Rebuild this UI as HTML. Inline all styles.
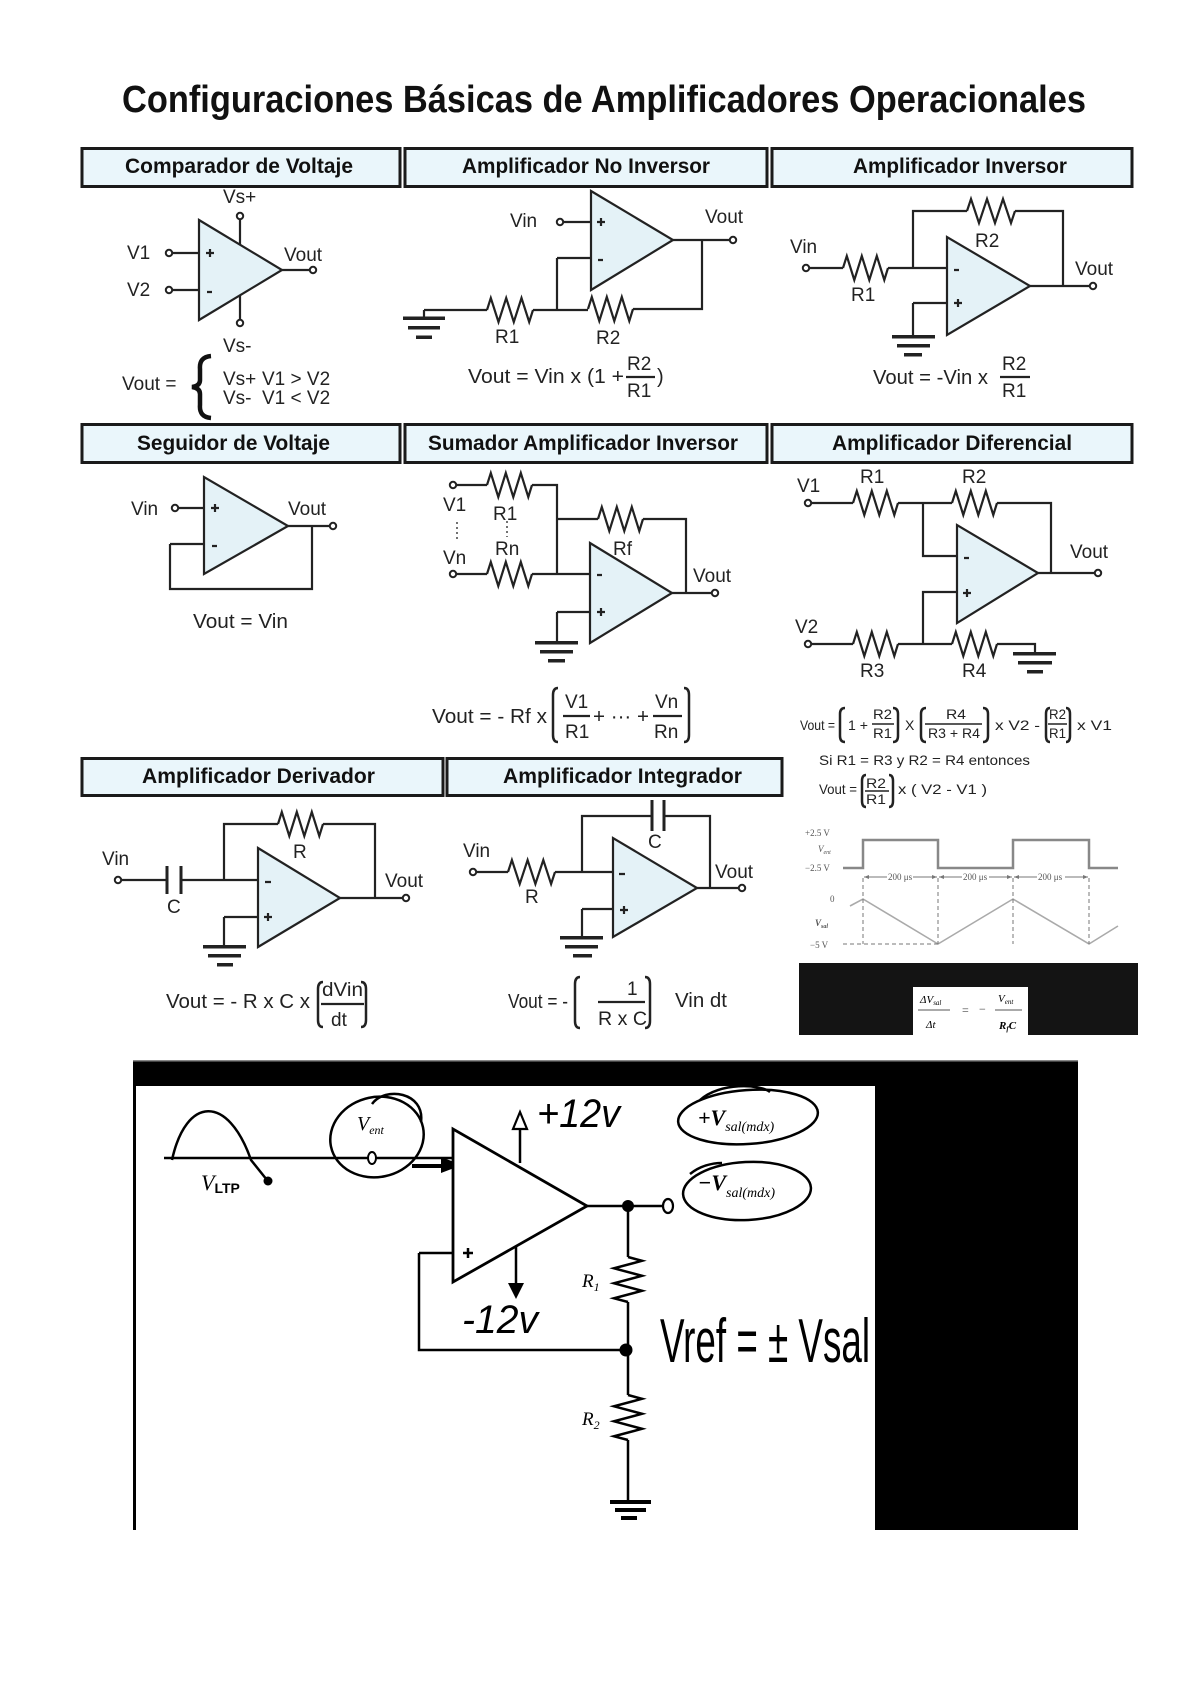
<!DOCTYPE html>
<html><head><meta charset="utf-8"><style>
html,body{margin:0;padding:0;background:#fff;}
svg{display:block;}
</style></head><body>
<svg width="1200" height="1696" viewBox="0 0 1200 1696" xmlns="http://www.w3.org/2000/svg">
<style>
.w{stroke:#222;stroke-width:2.2;fill:none;stroke-linejoin:miter}
.op{fill:#e4f2f7;stroke:#222;stroke-width:2.2}
.c{fill:#fff;stroke:#222;stroke-width:2}
.t{font-family:"Liberation Sans",sans-serif;fill:#222;font-size:19px}
.f{font-family:"Liberation Sans",sans-serif;fill:#222;font-size:20px}
.s{font-family:"Liberation Sans",sans-serif;fill:#222;font-size:14px}
.h{font-family:"Liberation Sans",sans-serif;font-weight:bold;fill:#111}
.hb{fill:#eaf6fb;stroke:#1a1a1a;stroke-width:3}
.g{fill:#222}
.br{stroke:#222;stroke-width:2.5;fill:none}
.wv{font-family:"Liberation Serif",serif;fill:#555;font-size:9px}
.hw{font-family:"Liberation Serif",serif;font-style:italic;fill:#000}
.k{stroke:#000;stroke-width:2.5;fill:none}
</style>

<!-- Title -->
<text x="122" y="112" font-size="38" textLength="964" lengthAdjust="spacingAndGlyphs" class="h">Configuraciones Básicas de Amplificadores Operacionales</text>

<!-- Header boxes -->
<rect class="hb" x="82" y="148.5" width="318" height="38"/>
<rect class="hb" x="405" y="148.5" width="362" height="38"/>
<rect class="hb" x="772" y="148.5" width="360" height="38"/>
<rect class="hb" x="82" y="424.5" width="318" height="38"/>
<rect class="hb" x="405" y="424.5" width="362" height="38"/>
<rect class="hb" x="772" y="424.5" width="360" height="38"/>
<rect class="hb" x="82" y="758.5" width="361" height="37"/>
<rect class="hb" x="447" y="758.5" width="335" height="37"/>

<text class="h" font-size="21" x="125" y="173" textLength="228" lengthAdjust="spacingAndGlyphs">Comparador de Voltaje</text>
<text class="h" font-size="21" x="462" y="173" textLength="248" lengthAdjust="spacingAndGlyphs">Amplificador No Inversor</text>
<text class="h" font-size="21" x="853" y="173" textLength="214" lengthAdjust="spacingAndGlyphs">Amplificador Inversor</text>
<text class="h" font-size="21" x="137" y="450" textLength="193" lengthAdjust="spacingAndGlyphs">Seguidor de Voltaje</text>
<text class="h" font-size="21" x="428" y="450" textLength="310" lengthAdjust="spacingAndGlyphs">Sumador Amplificador Inversor</text>
<text class="h" font-size="21" x="832" y="450" textLength="240" lengthAdjust="spacingAndGlyphs">Amplificador Diferencial</text>
<text class="h" font-size="21" x="142" y="783" textLength="233" lengthAdjust="spacingAndGlyphs">Amplificador Derivador</text>
<text class="h" font-size="21" x="503" y="783" textLength="239" lengthAdjust="spacingAndGlyphs">Amplificador Integrador</text>

<!-- ===== C1 Comparador ===== -->
<polygon class="op" points="199,220 199,320 282,270"/>
<path class="w" d="M172 253H199 M172 290H199 M240 219V245 M240 295V320 M282 270H310 M206 253H214 M210 249V257 M207 292H212"/>
<circle class="c" cx="169" cy="253" r="3.2"/>
<circle class="c" cx="169" cy="290" r="3.2"/>
<circle class="c" cx="240" cy="216" r="3.2"/>
<circle class="c" cx="240" cy="323" r="3.2"/>
<circle class="c" cx="313" cy="270" r="3.2"/>
<text class="t" x="127" y="259">V1</text>
<text class="t" x="127" y="296">V2</text>
<text class="t" x="223" y="203">Vs+</text>
<text class="t" x="223" y="352">Vs-</text>
<text class="t" x="284" y="261">Vout</text>
<text class="t" x="122" y="390" font-size="18">Vout =</text>
<path d="M211 356 Q199 357 200 369 L200 380 Q200 386 192 387 Q200 388 200 394 L200 405 Q199 417 211 418" stroke="#111" stroke-width="4.5" fill="none"/>
<text class="t" font-size="16" x="223" y="385">Vs+</text>
<text class="t" font-size="16" x="262" y="385">V1 &gt; V2</text>
<text class="t" font-size="16" x="223" y="404">Vs-</text>
<text class="t" font-size="16" x="262" y="404">V1 &lt; V2</text>

<!-- ===== C2 No Inversor ===== -->
<polygon class="op" points="591,191 591,290 673,240"/>
<path class="w" d="M563 222H591 M557 258H591 M557 258V310 M424 310H487 M533 310H588 M633 309H702V240 M673 240H730 M424 310V317 M597 222H605 M601 218V226 M598 260H603"/>
<polyline class="w" points="487,310 490.8,298 498.5,322 506.2,298 513.8,322 521.5,298 529.2,322 533,310"/>
<polyline class="w" points="588,309 591.8,297 599.3,321 606.8,297 614.3,321 621.8,297 629.3,321 633,309"/>
<rect class="g" x="403" y="316.5" width="42" height="3.5"/>
<rect class="g" x="408" y="326" width="32" height="3.5"/>
<rect class="g" x="416" y="335.5" width="16" height="3.5"/>
<circle class="c" cx="560" cy="222" r="3.2"/>
<circle class="c" cx="733" cy="240" r="3.2"/>
<text class="t" x="510" y="227">Vin</text>
<text class="t" x="705" y="223">Vout</text>
<text class="t" x="495" y="343">R1</text>
<text class="t" x="596" y="344">R2</text>
<text class="f" x="468" y="383" textLength="156" lengthAdjust="spacingAndGlyphs">Vout = Vin x (1 +</text>
<text class="t" x="627" y="370">R2</text>
<path class="w" d="M626 377H655"/>
<text class="t" x="627" y="397">R1</text>
<text class="f" x="657" y="383">)</text>

<!-- ===== C3 Inversor ===== -->
<polygon class="op" points="947,237 947,335 1030,286"/>
<path class="w" d="M809 268H843 M888 268H947 M913 268V211H967 M1015 211H1063V286 M1030 286H1090 M913 303H947 M913 303V336 M954 270H959 M954 303H962 M958 299V307"/>
<polyline class="w" points="843,268 846.8,256 854.3,280 861.8,256 869.3,280 876.8,256 884.3,280 888,268"/>
<polyline class="w" points="967,211 971,199 979,223 987,199 995,223 1003,199 1011,223 1015,211"/>
<rect class="g" x="892" y="335" width="43" height="3.5"/>
<rect class="g" x="897" y="344" width="33" height="3.5"/>
<rect class="g" x="904" y="353" width="18" height="3.5"/>
<circle class="c" cx="806" cy="268" r="3.2"/>
<circle class="c" cx="1093" cy="286" r="3.2"/>
<text class="t" x="790" y="253">Vin</text>
<text class="t" x="851" y="301">R1</text>
<text class="t" x="975" y="247">R2</text>
<text class="t" x="1075" y="275">Vout</text>
<text class="f" x="873" y="384" textLength="115" lengthAdjust="spacingAndGlyphs">Vout = -Vin x</text>
<text class="t" x="1002" y="370">R2</text>
<path class="w" d="M1000 377H1030"/>
<text class="t" x="1002" y="397">R1</text>

<!-- ===== C4 Seguidor ===== -->
<polygon class="op" points="204,477 204,574 288,526"/>
<path class="w" d="M178 508H204 M170 544H204 M170 544V589H312V526 M288 526H330 M211 508H219 M215 504V512 M212 546H217"/>
<circle class="c" cx="175" cy="508" r="3.2"/>
<circle class="c" cx="333" cy="526" r="3.2"/>
<text class="t" x="131" y="515">Vin</text>
<text class="t" x="288" y="515">Vout</text>
<text class="f" x="193" y="628" textLength="95" lengthAdjust="spacingAndGlyphs">Vout = Vin</text>

<!-- ===== C5 Sumador ===== -->
<polygon class="op" points="590,543 590,643 672,593"/>
<path class="w" d="M456 485H487 M532 485H557V574 M456 574H487 M532 574H590 M557 519H598 M643 519H686V593 M557 612H590 M557 612V642 M672 593H712 M597 575H602 M597 612H605 M601 608V616"/>
<polyline class="w" points="487,485 490.8,473 498.3,497 505.8,473 513.3,497 520.8,473 528.3,497 532,485"/>
<polyline class="w" points="487,574 490.8,562 498.3,586 505.8,562 513.3,586 520.8,562 528.3,586 532,574"/>
<polyline class="w" points="598,519 601.8,507 609.3,531 616.8,507 624.3,531 631.8,507 639.3,531 643,519"/>
<path d="M457 522V540 M507 521V537" stroke="#444" stroke-width="1.5" stroke-dasharray="2 3"/>
<rect class="g" x="535" y="641" width="43" height="3.5"/>
<rect class="g" x="540" y="650" width="33" height="3.5"/>
<rect class="g" x="548" y="659" width="17" height="3.5"/>
<circle class="c" cx="453" cy="485" r="3.2"/>
<circle class="c" cx="453" cy="574" r="3.2"/>
<circle class="c" cx="715" cy="593" r="3.2"/>
<text class="t" x="443" y="511">V1</text>
<text class="t" x="493" y="520">R1</text>
<text class="t" x="495" y="555">Rn</text>
<text class="t" x="443" y="564">Vn</text>
<text class="t" x="613" y="555">Rf</text>
<text class="t" x="693" y="582">Vout</text>
<text class="f" x="432" y="723" textLength="115" lengthAdjust="spacingAndGlyphs">Vout = - Rf x</text>
<path class="br" d="M558 688 Q553 688 553 695 V735 Q553 742 558 742 M684 688 Q689 688 689 695 V735 Q689 742 684 742"/>
<text class="t" x="565" y="708">V1</text>
<path class="w" d="M563 716H590"/>
<text class="t" x="565" y="738">R1</text>
<text class="f" x="593" y="723" textLength="56" lengthAdjust="spacingAndGlyphs">+ ··· +</text>
<text class="t" x="655" y="708">Vn</text>
<path class="w" d="M653 716H682"/>
<text class="t" x="654" y="738">Rn</text>

<!-- ===== C6 Diferencial ===== -->
<polygon class="op" points="957,525 957,623 1038,573"/>
<path class="w" d="M811 503H853 M898 503H952 M997 503H1051V573 M923 503V556H957 M811 644H853 M898 644H952 M997 644H1035V652 M923 644V592H957 M1038 573H1095 M964 558H969 M963 593H971 M967 589V597"/>
<polyline class="w" points="853,503 856.8,491 864.3,515 871.8,491 879.3,515 886.8,491 894.3,515 898,503"/>
<polyline class="w" points="952,503 955.8,491 963.3,515 970.8,491 978.3,515 985.8,491 993.3,515 997,503"/>
<polyline class="w" points="853,644 856.8,632 864.3,656 871.8,632 879.3,656 886.8,632 894.3,656 898,644"/>
<polyline class="w" points="952,644 955.8,632 963.3,656 970.8,632 978.3,656 985.8,632 993.3,656 997,644"/>
<rect class="g" x="1013" y="652" width="43" height="3.5"/>
<rect class="g" x="1018" y="661" width="34" height="3.5"/>
<rect class="g" x="1027" y="670" width="16" height="3.5"/>
<circle class="c" cx="808" cy="503" r="3.2"/>
<circle class="c" cx="808" cy="644" r="3.2"/>
<circle class="c" cx="1098" cy="573" r="3.2"/>
<text class="t" x="797" y="492">V1</text>
<text class="t" x="860" y="483">R1</text>
<text class="t" x="962" y="483">R2</text>
<text class="t" x="1070" y="558">Vout</text>
<text class="t" x="795" y="633">V2</text>
<text class="t" x="860" y="677">R3</text>
<text class="t" x="962" y="677">R4</text>

<text class="s" x="800" y="730" textLength="35" lengthAdjust="spacingAndGlyphs">Vout =</text>
<path class="br" d="M845 708 Q840 708 840 714 V736 Q840 742 845 742 M893 708 Q898 708 898 714 V736 Q898 742 893 742"/>
<text class="s" x="848" y="730" textLength="20" lengthAdjust="spacingAndGlyphs">1 +</text>
<text class="s" font-size="12" x="873" y="719" textLength="19" lengthAdjust="spacingAndGlyphs">R2</text>
<path d="M872 724H894" stroke="#222" stroke-width="1.5"/>
<text class="s" font-size="12" x="873" y="738" textLength="19" lengthAdjust="spacingAndGlyphs">R1</text>
<text class="s" x="905" y="730">X</text>
<path class="br" d="M926 708 Q921 708 921 714 V736 Q921 742 926 742 M983 708 Q988 708 988 714 V736 Q988 742 983 742"/>
<text class="s" font-size="12" x="946" y="719" textLength="20" lengthAdjust="spacingAndGlyphs">R4</text>
<path d="M925 724H982" stroke="#222" stroke-width="1.5"/>
<text class="s" font-size="12" x="928" y="738" textLength="52" lengthAdjust="spacingAndGlyphs">R3 + R4</text>
<text class="s" x="995" y="730" textLength="45" lengthAdjust="spacingAndGlyphs">x V2 -</text>
<path class="br" d="M1050 708 Q1046 708 1046 714 V736 Q1046 742 1050 742 M1066 708 Q1070 708 1070 714 V736 Q1070 742 1066 742"/>
<text class="s" font-size="12" x="1049" y="719" textLength="17" lengthAdjust="spacingAndGlyphs">R2</text>
<path d="M1048 724H1067" stroke="#222" stroke-width="1.5"/>
<text class="s" font-size="12" x="1049" y="738" textLength="17" lengthAdjust="spacingAndGlyphs">R1</text>
<text class="s" x="1077" y="730" textLength="35" lengthAdjust="spacingAndGlyphs">x V1</text>
<text class="s" x="819" y="765" textLength="211" lengthAdjust="spacingAndGlyphs">Si R1 = R3 y R2 = R4 entonces</text>
<text class="s" x="819" y="794" textLength="38" lengthAdjust="spacingAndGlyphs">Vout =</text>
<path class="br" d="M866 775 Q862 775 862 781 V801 Q862 807 866 807 M889 775 Q893 775 893 781 V801 Q893 807 889 807"/>
<text class="s" font-size="12" x="866" y="788" textLength="20" lengthAdjust="spacingAndGlyphs">R2</text>
<path d="M865 791H889" stroke="#222" stroke-width="1.5"/>
<text class="s" font-size="12" x="866" y="804" textLength="20" lengthAdjust="spacingAndGlyphs">R1</text>
<text class="s" x="898" y="794" textLength="89" lengthAdjust="spacingAndGlyphs">x ( V2 - V1 )</text>

<!-- ===== C7 Derivador ===== -->
<polygon class="op" points="258,848 258,947 340,898"/>
<path class="w" d="M121 880H167 M181 880H258 M224 880V824H278 M323 824H375V898 M224 917H258 M224 917V946 M340 898H403 M265 882H271 M264 917H272 M268 913V921"/>
<path d="M167 866V894 M181 866V894" stroke="#222" stroke-width="3"/>
<polyline class="w" points="278,824 281.8,812 289.3,836 296.8,812 304.3,836 311.8,812 319.3,836 323,824"/>
<rect class="g" x="203" y="945" width="43" height="3.5"/>
<rect class="g" x="208" y="954" width="33" height="3.5"/>
<rect class="g" x="217" y="963" width="16" height="3.5"/>
<circle class="c" cx="118" cy="880" r="3.2"/>
<circle class="c" cx="406" cy="898" r="3.2"/>
<text class="t" x="102" y="865">Vin</text>
<text class="t" x="167" y="913">C</text>
<text class="t" x="293" y="858">R</text>
<text class="t" x="385" y="887">Vout</text>
<text class="f" x="166" y="1008" textLength="144" lengthAdjust="spacingAndGlyphs">Vout = - R x C x</text>
<path class="br" d="M323 982 Q318 982 318 989 V1020 Q318 1027 323 1027 M361 982 Q366 982 366 989 V1020 Q366 1027 361 1027"/>
<text class="t" x="322" y="996" textLength="41" lengthAdjust="spacingAndGlyphs">dVin</text>
<path class="w" d="M321 1004H364"/>
<text class="t" x="331" y="1026">dt</text>

<!-- ===== C8 Integrador ===== -->
<polygon class="op" points="613,838 613,937 697,888"/>
<path class="w" d="M476 872H508 M555 872H613 M582 872V816H652 M664 816H710V888 M582 909H613 M582 909V937 M697 888H739 M619 874H625 M620 910H628 M624 906V914"/>
<path d="M652 800V831 M664 800V831" stroke="#222" stroke-width="3"/>
<polyline class="w" points="508,872 511.9,860 519.7,884 527.6,860 535.4,884 543.3,860 551.1,884 555,872"/>
<rect class="g" x="560" y="936" width="43" height="3.5"/>
<rect class="g" x="565" y="945" width="33" height="3.5"/>
<rect class="g" x="573" y="954" width="19" height="3.5"/>
<circle class="c" cx="473" cy="872" r="3.2"/>
<circle class="c" cx="742" cy="888" r="3.2"/>
<text class="t" x="463" y="857">Vin</text>
<text class="t" x="525" y="903">R</text>
<text class="t" x="648" y="848">C</text>
<text class="t" x="715" y="878">Vout</text>
<text class="f" x="508" y="1008" textLength="60" lengthAdjust="spacingAndGlyphs">Vout = -</text>
<path class="br" d="M580 977 Q575 977 575 984 V1021 Q575 1028 580 1028 M645 977 Q650 977 650 984 V1021 Q650 1028 645 1028"/>
<text class="t" x="627" y="995">1</text>
<path class="w" d="M598 1002H645"/>
<text class="t" x="598" y="1025" textLength="49" lengthAdjust="spacingAndGlyphs">R x C</text>
<text class="f" x="675" y="1007" textLength="52" lengthAdjust="spacingAndGlyphs">Vin dt</text>

<!-- ===== Waveform ===== -->
<polyline points="843,868 863,868 863,840 938,840 938,868 1013,868 1013,840 1089,840 1089,868 1118,868" fill="none" stroke="#888" stroke-width="2.5"/>
<polyline points="850,906 863,899 938,944 1013,899 1089,944 1118,926" fill="none" stroke="#aaa" stroke-width="1.6"/>
<path d="M863 878V944 M938 878V944 M1013 878V944 M1089 878V944 M843 944H938" stroke="#777" stroke-width="1" stroke-dasharray="4 3"/>
<path d="M864 877H887 M913 877H937 M939 877H962 M989 877H1012 M1014 877H1037 M1065 877H1088" stroke="#777" stroke-width="1"/>
<path d="M864 877l5 -2v4z M937 877l-5 -2v4z M939 877l5 -2v4z M1012 877l-5 -2v4z M1014 877l5 -2v4z M1088 877l-5 -2v4z" fill="#777"/>
<text class="wv" x="888" y="880">200 μs</text>
<text class="wv" x="963" y="880">200 μs</text>
<text class="wv" x="1038" y="880">200 μs</text>
<text class="wv" x="805" y="836">+2.5 V</text>
<text class="wv" x="818" y="852" font-style="italic">V<tspan font-size="6" dy="2">ent</tspan></text>
<text class="wv" x="805" y="871">−2.5 V</text>
<text class="wv" x="830" y="902">0</text>
<text class="wv" x="815" y="926" font-style="italic" font-weight="bold">V<tspan font-size="6" dy="2">sal</tspan></text>
<text class="wv" x="810" y="948">−5 V</text>

<!-- Black panel -->
<rect x="799" y="963" width="339" height="72" fill="#141414"/>
<rect x="913" y="987" width="115" height="48" fill="#fff"/>
<text class="hw" font-size="11" x="920" y="1003" fill="#444">ΔV<tspan font-size="7" dy="2">sal</tspan></text>
<path d="M918 1010H950 M995 1010H1022" stroke="#555" stroke-width="1"/>
<text class="hw" font-size="11" x="926" y="1028" fill="#444">Δt</text>
<text font-family="Liberation Serif,serif" font-size="12" x="962" y="1014" fill="#444">=</text>
<text font-family="Liberation Serif,serif" font-size="12" x="979" y="1013" fill="#444">−</text>
<text class="hw" font-size="11" x="998" y="1002" fill="#444">V<tspan font-size="7" dy="2">ent</tspan></text>
<text class="hw" font-size="11" x="999" y="1029" fill="#444" font-weight="bold">R<tspan font-size="7" dy="2">f</tspan><tspan dy="-2">C</tspan></text>

<!-- ===== Bottom section ===== -->
<rect x="133" y="1060" width="945" height="26" fill="#000"/>
<rect x="133" y="1060" width="945" height="1.5" fill="#888"/>
<rect x="875" y="1086" width="203" height="444" fill="#000"/>
<rect x="133" y="1086" width="3" height="444" fill="#000"/>

<!-- sine -->
<path class="k" stroke-width="1.8" d="M164 1158H453"/>
<path class="k" stroke-width="1.8" d="M172 1160 C186 1096, 228 1094, 251 1160 L267 1180"/>
<circle cx="268" cy="1181" r="4.5" fill="#000"/>
<text class="hw" font-size="22" x="201" y="1190">V<tspan font-size="14" font-style="normal" font-family="Liberation Sans,sans-serif" font-weight="bold" dy="3">LTP</tspan></text>

<!-- Vent ellipse -->
<ellipse cx="377" cy="1137" rx="47" ry="40" transform="rotate(-12 377 1137)" class="k" stroke-width="2.5"/>
<path class="k" stroke-width="2.2" d="M372 1104 C385 1086, 425 1092, 421 1122"/>
<text class="hw" font-size="20" x="357" y="1130">V<tspan font-size="12" dy="4">ent</tspan></text>
<ellipse cx="372" cy="1158" rx="4" ry="6" fill="#fff" stroke="#000" stroke-width="2"/>

<!-- input arrow -->
<path d="M412 1166H446" stroke="#000" stroke-width="4"/>
<path d="M441 1157 L462 1165 L441 1173 Z" fill="#000"/>
<path d="M462 1157H474" stroke="#000" stroke-width="2"/>

<!-- op-amp -->
<polygon points="453,1129 453,1282 587,1206" fill="#fff" stroke="#000" stroke-width="2.8"/>
<path class="k" d="M463 1253H473 M468 1248V1258"/>
<!-- +12 -->
<path class="k" d="M520 1163V1114"/>
<path d="M513 1129 L520 1112 L527 1129 Z" fill="#fff" stroke="#000" stroke-width="2.2"/>
<text font-family="Liberation Sans,sans-serif" font-size="40" x="537" y="1127" textLength="83" lengthAdjust="spacingAndGlyphs" fill="#000" font-style="italic">+12v</text>
<!-- -12 -->
<path class="k" d="M516 1247V1290"/>
<path d="M508 1283 L524 1283 L516 1299 Z" fill="#000"/>
<text font-family="Liberation Sans,sans-serif" font-size="40" x="462" y="1333" textLength="76" lengthAdjust="spacingAndGlyphs" fill="#000" font-style="italic">-12v</text>

<!-- feedback -->
<path class="k" d="M419 1253H453 M419 1253V1350H628"/>
<path class="k" d="M587 1206H663 M628 1206V1257 M628 1302V1395 M628 1440V1502"/>
<circle cx="628" cy="1206" r="6" fill="#000"/>
<circle cx="626" cy="1350" r="6.5" fill="#000"/>
<ellipse cx="668" cy="1206" rx="5" ry="7" fill="#fff" stroke="#000" stroke-width="2.2"/>
<polyline class="k" points="628,1257 642,1260.8 614,1268.3 642,1275.8 614,1283.3 642,1290.8 614,1298.3 628,1302"/>
<polyline class="k" points="628,1395 642,1398.8 614,1406.3 642,1413.8 614,1421.3 642,1428.8 614,1436.3 628,1440"/>
<rect x="610" y="1500" width="41" height="4" fill="#000"/>
<rect x="615" y="1508" width="31" height="4" fill="#000"/>
<rect x="621" y="1516" width="16" height="4" fill="#000"/>
<text class="hw" font-size="19" x="582" y="1287">R<tspan font-size="12" dy="4">1</tspan></text>
<text class="hw" font-size="19" x="582" y="1425">R<tspan font-size="12" dy="4">2</tspan></text>

<!-- Vsal ellipses -->
<ellipse cx="748" cy="1117" rx="70" ry="27" transform="rotate(-4 748 1117)" class="k" stroke-width="2.5"/>
<path class="k" stroke-width="2" d="M700 1100 C720 1082, 760 1084, 770 1092"/>
<text class="hw" font-size="22" x="698" y="1125" font-weight="bold">+V<tspan font-size="14" font-weight="normal" dy="6">sal(mdx)</tspan></text>
<ellipse cx="747" cy="1191" rx="64" ry="29" transform="rotate(-3 747 1191)" class="k" stroke-width="2.5"/>
<path class="k" stroke-width="2" d="M690 1174 C700 1166, 712 1163, 722 1163"/>
<text class="hw" font-size="22" x="698" y="1190" font-weight="bold">−V<tspan font-size="14" font-weight="normal" dy="7">sal(mdx)</tspan></text>

<!-- Vref -->
<text font-family="Liberation Sans,sans-serif" font-size="62" x="660" y="1362" textLength="210" lengthAdjust="spacingAndGlyphs" fill="#000">Vref = ± Vsal</text>
</svg>
</body></html>
